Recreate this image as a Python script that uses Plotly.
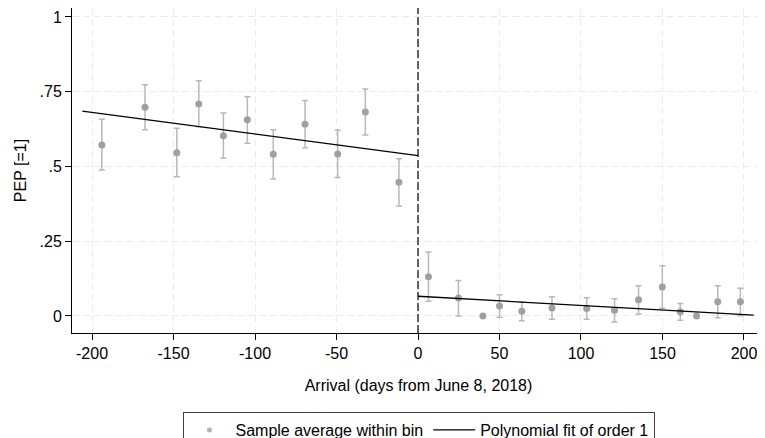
import plotly.graph_objects as go

# Binned sample averages (left of cutoff)
left_x = [-194, -167.5, -148, -134.5, -119.4, -104.7, -88.8, -69.3, -49.3, -32.3, -11.7]
left_y = [0.572, 0.698, 0.546, 0.709, 0.603, 0.656, 0.541, 0.641, 0.542, 0.682, 0.447]
left_hi = [0.658, 0.773, 0.628, 0.787, 0.679, 0.733, 0.623, 0.721, 0.622, 0.759, 0.526]
left_lo = [0.488, 0.623, 0.466, 0.633, 0.528, 0.578, 0.458, 0.563, 0.463, 0.605, 0.368]

# Binned sample averages (right of cutoff)
right_x = [6.4, 24.8, 39.8, 50, 63.7, 82.2, 103.5, 120.6, 135.3, 149.9, 160.9, 170.9, 183.9, 197.8]
right_y = [0.131, 0.060, 0.0, 0.033, 0.016, 0.027, 0.025, 0.019, 0.054, 0.097, 0.014, 0.0, 0.048, 0.048]
right_hi = [0.214, 0.119, 0.0, 0.071, 0.046, 0.064, 0.061, 0.058, 0.101, 0.168, 0.042, 0.0, 0.101, 0.093]
right_lo = [0.049, 0.0, 0.0, -0.004, -0.016, -0.011, -0.011, -0.020, 0.007, 0.026, -0.014, 0.0, -0.006, 0.001]

# Linear fits on each side
fit_left_x = [-206, 0]
fit_left_y = [0.685, 0.536]
fit_right_x = [0, 206]
fit_right_y = [0.066, 0.003]

x_ticks = [-200, -150, -100, -50, 0, 50, 100, 150, 200]
y_ticks = [0, 0.25, 0.5, 0.75, 1]
y_ticktext = ["0", ".25", ".5", ".75", "1"]

FONT = "Arial, Liberation Sans, sans-serif"
MARK = "#a0a0a0"
ERR = "#b8b8b8"

bins_x = left_x + right_x
bins_y = left_y + right_y
bins_hi = left_hi + right_hi
bins_lo = left_lo + right_lo

fig = go.Figure()
fig.add_trace(go.Scatter(
    x=bins_x, y=bins_y, mode="markers",
    name="Sample average within bin", showlegend=False,
    marker=dict(color=MARK, size=7),
    error_y=dict(type="data", symmetric=False,
                 array=[h - y for h, y in zip(bins_hi, bins_y)],
                 arrayminus=[y - l for l, y in zip(bins_lo, bins_y)],
                 color=ERR, thickness=1.5, width=3),
))
# legend-only entry (smaller symbol, as in the original legend)
fig.add_trace(go.Scatter(
    x=[None], y=[None], mode="markers",
    name="Sample average within bin",
    marker=dict(color="#b4b4b4", size=5),
))
fig.add_trace(go.Scatter(
    x=fit_left_x, y=fit_left_y, mode="lines",
    name="Polynomial fit of order 1",
    line=dict(color="black", width=1.3),
))
fig.add_trace(go.Scatter(
    x=fit_right_x, y=fit_right_y, mode="lines",
    name="Polynomial fit of order 1", showlegend=False,
    line=dict(color="black", width=1.3),
))

fig.add_shape(type="line", xref="x", yref="paper", x0=0, x1=0, y0=0, y1=1,
              line=dict(color="black", width=1.2, dash="8px,3px"))

fig.update_layout(
    width=757, height=442,
    margin=dict(l=64, r=0, t=0, b=117),
    paper_bgcolor="white", plot_bgcolor="white",
    font=dict(family=FONT, size=16, color="black"),
    showlegend=True,
    legend=dict(orientation="h", x=0.5, xanchor="center", y=-0.243, yanchor="top",
                bordercolor="#404040", borderwidth=1, bgcolor="white",
                font=dict(size=16), itemwidth=42),
    xaxis=dict(range=[-212.3, 212.9], tickvals=x_ticks,
               ticktext=[str(v) for v in x_ticks],
               showline=True, linecolor="black", linewidth=1,
               ticks="outside", ticklen=6, tickcolor="black",
               showgrid=True, gridcolor="#ebebeb", griddash="7px,4px", gridwidth=1,
               zeroline=False,
               title=dict(text="Arrival (days from June 8, 2018)", standoff=18,
                          font=dict(size=16))),
    yaxis=dict(range=[-0.0569, 1.030], tickvals=y_ticks, ticktext=y_ticktext,
               showline=True, linecolor="black", linewidth=1,
               ticks="outside", ticklen=6, tickcolor="black",
               showgrid=True, gridcolor="#ebebeb", griddash="7px,4px", gridwidth=1,
               zeroline=False,
               title=dict(text="PEP [=1]", standoff=8, font=dict(size=16))),
)

fig.write_html("out.html")
